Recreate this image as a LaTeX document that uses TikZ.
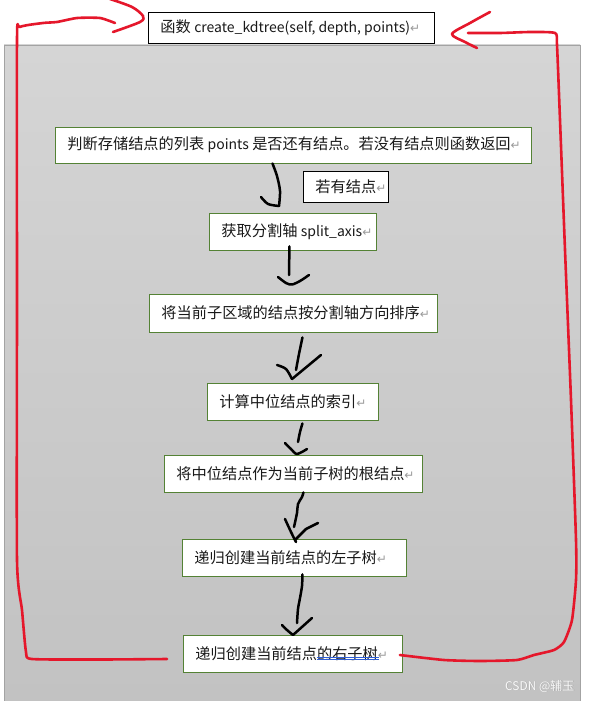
\documentclass[tikz,border=0pt]{standalone}
\usepackage{fontspec}
\setmainfont{Noto Sans CJK SC}
\newfontfamily\dejavu{DejaVu Sans}
\usetikzlibrary{calc}
\definecolor{boxgreen}{HTML}{548235}
\definecolor{redpen}{HTML}{E5172B}
\definecolor{retgray}{HTML}{9A9A9A}
\definecolor{graytop}{HTML}{D5D5D5}
\definecolor{graybot}{HTML}{C2C2C2}
\definecolor{grayedge}{HTML}{A3A3A3}
\definecolor{ulblue}{HTML}{2E5FD6}
\newcommand{\retmark}{{\dejavu\fontsize{12}{12}\selectfont\color{retgray}↵}}
\begin{document}
\begin{tikzpicture}[x=1pt,y=-1pt,
  gbox/.style={draw=boxgreen, line width=0.9pt, fill=white, inner xsep=12pt, inner ysep=0pt,
    minimum height=37pt, anchor=west, font=\fontsize{15.2}{15.2}\selectfont, text=black!90},
  kbox/.style={draw=black, line width=0.9pt, fill=white, inner xsep=12pt, inner ysep=0pt,
    minimum height=31pt, anchor=west, font=\fontsize{15.2}{15.2}\selectfont, text=black!90},
  blackpen/.style={draw=black, line width=2.5pt, line cap=round, line join=round},
  redline/.style={draw=redpen, line width=2.6pt, line cap=round, line join=round}]
\useasboundingbox (0,0) rectangle (594,701);
\fill[white] (0,0) rectangle (594,701);
% grey page area
\shade[top color=graytop, bottom color=graybot] (4,45) rectangle (580,701);
\draw[grayedge, line width=0.8pt] (4,701) -- (4,45) -- (580,45) -- (580,701);

% nodes
\node[kbox] (top) at (148,27.5) {\makebox[262pt][l]{函数 {\fontsize{14}{14}\selectfont create\_kdtree(self, depth, points)}\retmark}};
\node[gbox, minimum height=36pt] (b1) at (55,145) {\makebox[452pt][l]{判断存储结点的列表 {\fontsize{14}{14}\selectfont points} 是否还有结点。若没有结点则函数返回\retmark}};
\node[kbox] (yes) at (303,186.5) {\makebox[61pt][l]{若有结点\retmark}};
\node[gbox] (b2) at (209,231.5) {\makebox[143pt][l]{获取分割轴 {\fontsize{14}{14}\selectfont split\_axis}\retmark}};
\node[gbox, minimum height=38pt] (b3) at (149,313) {\makebox[264pt][l]{将当前子区域的结点按分割轴方向排序\retmark}};
\node[gbox] (b4) at (207,401.5) {\makebox[147pt][l]{计算中位结点的索引\retmark}};
\node[gbox] (b5) at (164,473.5) {\makebox[234pt][l]{将中位结点作为当前子树的根结点\retmark}};
\node[gbox] (b6) at (182,557.5) {\makebox[200pt][l]{递归创建当前结点的左子树\retmark}};
\node[gbox] (b7) at (183,653.5) {\makebox[195pt][l]{递归创建当前结点的右子树\retmark}};

% grammar underline under 的右子树
\draw[ulblue, line width=0.6pt] ($(b7.west)+(134,3.8)$) -- ($(b7.west)+(196,3.8)$);
\draw[ulblue, line width=0.6pt] ($(b7.west)+(134,5.6)$) -- ($(b7.west)+(196,5.6)$);

% hand-drawn black arrows
\coordinate (t1) at (279,206);
\draw[blackpen] plot[smooth] coordinates {([xshift=-21pt]b1.south) (277,176) (280,191) (t1)};
\draw[blackpen] plot[smooth] coordinates {(261,197) (268,204) (t1)};

\coordinate (t2) at (292,284.5);
\draw[blackpen] ([xshift=-3.5pt,yshift=4pt]b2.south) -- (289,275);
\draw[blackpen] plot[smooth] coordinates {(278,277) (286,283) (t2) (300,281) (309,275)};

\coordinate (t3) at (292,379);
\draw[blackpen] plot[smooth] coordinates {([xshift=9pt,yshift=-5pt]b3.south) (299,354) (296,370)};
\draw[blackpen] plot[smooth] coordinates {(277,365) (286,369) (t3)};
\draw[blackpen] (t3) -- (321,355);

\coordinate (t4) at (297,454);
\draw[blackpen] plot[smooth] coordinates {([xshift=9.5pt,yshift=-3pt]b4.south) (300,432) (298,442)};
\draw[blackpen] plot[smooth] coordinates {(285,443) (291,449) (t4) (307,449)};

\coordinate (t5) at (296,542);
\draw[blackpen] plot[smooth] coordinates {([xshift=10pt]b5.south) (302,497) (298,504) (297,513) (294,527)};
\draw[blackpen] plot[smooth] coordinates {(285,519) (291,532) (t5)};
\draw[blackpen] (295,540) -- (306,529) -- (318,523);

\coordinate (t6) at (293,635);
\draw[blackpen] plot[smooth] coordinates {([xshift=8pt,yshift=2pt]b6.south) (302,586) (300,598) (298,609) (297,623)};
\draw[blackpen] plot[smooth] coordinates {(282,625) (287,630) (t6)};
\draw[blackpen] (t6) -- (312,618);

% red loop, left side
\coordinate (lt) at (143,16);
\draw[redline] plot[smooth, tension=0.35] coordinates {([xshift=-16pt,yshift=-5.5pt]b7.west) (100,659.5) (32,659) (26,652) (22,610) (17,560) (17,300) (17,40) (20,27) (43,23) (57,22) (77,18) (100,18) (115,23)};
\draw[redline] plot[smooth, tension=0.5] coordinates {(110,-1) (132,7) (lt) (140,22) (113,32)};

% red loop, right side
\coordinate (rt) at (452,34);
\draw[redline] plot[smooth, tension=0.35] coordinates {([xshift=-3pt,yshift=-1.5pt]b7.east) (444,660) (480,661) (517,660) (534,655) (554,650) (564,642) (572,620) (576,580) (576,540) (571,400) (565,250) (560,120) (557,45) (555,33) (530,32) (500,33) (468,33)};
\draw[redline] plot[smooth, tension=0.5] coordinates {(490,12) (470,23) (rt) (465,42) (477,48)};

% watermark
\node[anchor=east, font=\fontsize{12}{12}\selectfont, text=gray!70] (wm0) at (578.6,686.6) {CSDN @辅玉};
\node[anchor=east, font=\fontsize{12}{12}\selectfont, text=white!95!gray] (wm) at (578,686) {CSDN @辅玉};
\end{tikzpicture}
\end{document}
